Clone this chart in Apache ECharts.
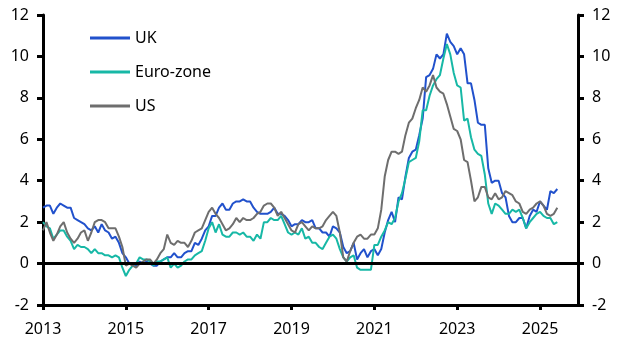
<!DOCTYPE html>
<html><head><meta charset="utf-8">
<script src="https://cdn.jsdelivr.net/npm/echarts@6/dist/echarts.min.js"></script>
<style>html,body{margin:0;padding:0;background:#fff}#c{width:628px;height:352px}</style>
</head><body><div id="c"></div>
<script>
// Monthly categories Jan 2013 .. Dec 2025
var firstYear = 2013, lastYear = 2025;
var months = [];
for (var y = firstYear; y <= lastYear; y++) { for (var m = 1; m <= 12; m++) { months.push(y + '-' + (m < 10 ? '0' + m : m)); } }
var yTicks = [-2, 0, 2, 4, 6, 8, 10, 12];
var seriesNames = ['UK', 'Euro-zone', 'US'];

// CPI inflation, % y/y (Jan 2013 .. Jun 2025)
var uk = [
 2.7,2.8,2.8,2.4,2.7,2.9,2.8,2.7,2.7,2.2,2.1,2.0,
 1.9,1.7,1.6,1.8,1.5,1.9,1.6,1.5,1.2,1.3,1.0,0.5,
 0.3,0.0,0.0,-0.1,0.1,0.0,0.1,0.0,-0.1,-0.1,0.1,0.2,
 0.3,0.3,0.5,0.3,0.3,0.5,0.6,0.6,1.0,0.9,1.2,1.6,
 1.8,2.3,2.3,2.7,2.9,2.6,2.6,2.9,3.0,3.0,3.1,3.0,
 3.0,2.7,2.5,2.4,2.4,2.4,2.5,2.7,2.4,2.4,2.3,2.1,
 1.8,1.9,1.9,2.1,2.0,2.0,2.1,1.7,1.7,1.5,1.5,1.3,
 1.8,1.7,1.5,0.8,0.5,0.6,1.0,0.2,0.5,0.7,0.3,0.6,
 0.7,0.4,0.7,1.5,2.1,2.5,2.0,3.2,3.1,4.2,5.1,5.4,
 5.5,6.2,7.0,9.0,9.1,9.4,10.1,9.9,10.1,11.1,10.7,10.5,
 10.1,10.4,10.1,8.7,8.7,7.9,6.8,6.7,6.7,4.6,3.9,4.0,
 4.0,3.4,3.2,2.3,2.0,2.0,2.2,2.2,1.7,2.3,2.6,2.5,
 3.0,2.8,2.6,3.5,3.4,3.6
];
var ez = [
 2.0,1.8,1.7,1.2,1.4,1.6,1.6,1.3,1.1,0.7,0.9,0.8,
 0.8,0.7,0.5,0.7,0.5,0.5,0.4,0.4,0.3,0.4,0.3,-0.2,
 -0.6,-0.3,-0.1,0.0,0.3,0.2,0.2,0.1,-0.1,0.1,0.1,0.2,
 0.3,-0.2,0.0,-0.2,-0.1,0.1,0.2,0.2,0.4,0.5,0.6,1.1,
 1.7,2.0,1.5,1.9,1.4,1.3,1.3,1.5,1.5,1.4,1.5,1.3,
 1.3,1.1,1.4,1.2,2.0,2.0,2.2,2.1,2.1,2.3,1.9,1.5,
 1.4,1.5,1.4,1.7,1.2,1.3,1.0,1.0,0.8,0.7,1.0,1.3,
 1.4,1.2,0.7,0.3,0.1,0.3,0.4,-0.2,-0.3,-0.3,-0.3,-0.3,
 0.9,0.9,1.3,1.6,2.0,1.9,2.2,3.0,3.4,4.1,4.9,5.0,
 5.1,5.9,7.4,7.4,8.1,8.6,8.9,9.1,9.9,10.6,10.1,9.2,
 8.6,8.5,6.9,7.0,6.1,5.5,5.3,5.2,4.3,2.9,2.4,2.9,
 2.8,2.6,2.4,2.4,2.6,2.5,2.6,2.2,1.7,2.0,2.2,2.4,
 2.5,2.3,2.2,2.2,1.9,2.0
];
var us = [
 1.6,2.0,1.5,1.1,1.4,1.8,2.0,1.5,1.2,1.0,1.2,1.5,
 1.6,1.1,1.5,2.0,2.1,2.1,2.0,1.7,1.7,1.7,1.3,0.8,
 -0.1,0.0,-0.1,-0.2,0.0,0.1,0.2,0.2,0.0,0.2,0.5,0.7,
 1.4,1.0,0.9,1.1,1.0,1.0,0.8,1.1,1.5,1.6,1.7,2.1,
 2.5,2.7,2.4,2.2,1.9,1.6,1.7,1.9,2.2,2.0,2.2,2.1,
 2.1,2.2,2.4,2.5,2.8,2.9,2.9,2.7,2.3,2.5,2.2,1.9,
 1.6,1.5,1.9,2.0,1.8,1.6,1.8,1.7,1.7,1.8,2.1,2.3,
 2.5,2.3,1.5,0.3,0.1,0.6,1.0,1.3,1.4,1.2,1.2,1.4,
 1.4,1.7,2.6,4.2,5.0,5.4,5.4,5.3,5.4,6.2,6.8,7.0,
 7.5,7.9,8.5,8.3,8.6,9.1,8.5,8.3,8.2,7.7,7.1,6.5,
 6.4,6.0,5.0,4.9,4.0,3.0,3.2,3.7,3.7,3.2,3.1,3.4,
 3.1,3.2,3.5,3.4,3.3,3.0,2.9,2.5,2.4,2.6,2.7,2.9,
 3.0,2.8,2.4,2.3,2.4,2.7
];

var FONT = 'Noto Sans';
var chart = echarts.init(document.getElementById('c'), null, {renderer: 'canvas'});
function yAxisDef(pos, align) {
  return {
    type: 'value', position: pos, min: yTicks[0], max: yTicks[yTicks.length - 1], interval: 2,
    splitLine: {show: false},
    axisLine: {show: true, lineStyle: {color: '#000', width: 3}},
    axisTick: {show: true, length: 6, lineStyle: {color: '#000', width: 3}},
    axisLabel: {color: '#000', fontFamily: FONT, fontSize: 16, margin: 14, align: align}
  };
}
function isLabelIdx(i) { return i % 24 === 0; }
chart.setOption({
  animation: false,
  backgroundColor: '#fff',
  grid: {left: 43, right: 50, top: 15, bottom: 47, containLabel: false, outerBoundsMode: 'none'},
  legend: {
    orient: 'vertical', left: 90, top: 28, padding: 0, itemWidth: 40, itemHeight: 3, itemGap: 14,
    icon: 'rect',
    textStyle: {color: '#000', fontFamily: FONT, fontSize: 16, lineHeight: 20},
    data: seriesNames
  },
  xAxis: {
    type: 'category', data: months, boundaryGap: false,
    axisLine: {show: true, onZero: false, lineStyle: {color: '#000', width: 3}},
    axisTick: {show: true, length: 5, interval: function (i) { return isLabelIdx(i); }, lineStyle: {color: '#000', width: 3}},
    axisLabel: {
      interval: function (i) { return isLabelIdx(i); }, color: '#000', fontFamily: FONT, fontSize: 16, margin: 16,
      formatter: function (v) { return v.slice(0, 4); }
    },
    splitLine: {show: false}
  },
  yAxis: [yAxisDef('left', 'right'), yAxisDef('right', 'left')],
  series: [
    {name: seriesNames[0], type: 'line', data: uk, symbol: 'none', lineStyle: {color: '#2151cc', width: 2}, itemStyle: {color: '#2151cc'}, z: 3,
     markLine: {silent: true, symbol: 'none', label: {show: false}, lineStyle: {color: '#000', width: 3, type: 'solid'}, data: [{yAxis: 0}]}},
    {name: seriesNames[1], type: 'line', data: ez, symbol: 'none', lineStyle: {color: '#17b8a6', width: 2}, itemStyle: {color: '#17b8a6'}, z: 3},
    {name: seriesNames[2], type: 'line', data: us, symbol: 'none', lineStyle: {color: '#6e6e6e', width: 2}, itemStyle: {color: '#6e6e6e'}, z: 3}
  ]
});
</script></body></html>
